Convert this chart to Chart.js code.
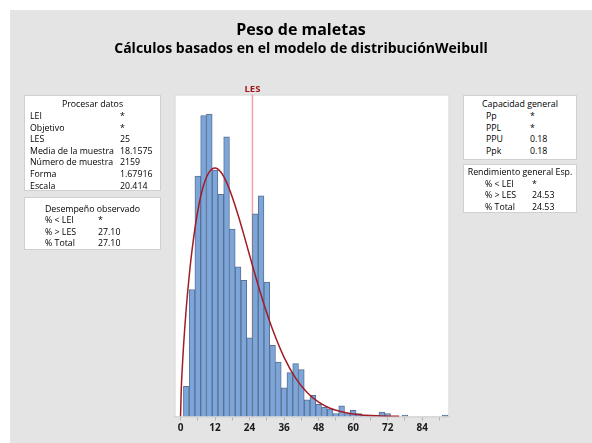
<!DOCTYPE html>
<html><head><meta charset="utf-8">
<script src="https://cdn.jsdelivr.net/npm/chart.js@4.4.1/dist/chart.umd.min.js"></script>
<style>
html,body{margin:0;padding:0;background:#fff;}
#wrap{position:relative;width:592px;height:443px;overflow:hidden;}
#bg{position:absolute;left:10px;top:10px;width:582px;height:433px;background:#e4e4e4;}
canvas{position:absolute;left:0;top:0;}
.ttl{position:absolute;left:10px;width:582px;text-align:center;font-family:'Open Sans',sans-serif;font-weight:bold;color:#000;white-space:nowrap;}
.box{position:absolute;background:#fff;border:1px solid #d0d0d0;box-sizing:border-box;font-family:'Open Sans',sans-serif;font-size:8.8px;color:#000;}
.box div{position:absolute;white-space:nowrap;line-height:10px;height:10px;}
</style></head>
<body><div id="wrap"><div id="bg"></div>
<canvas id="c" width="592" height="443"></canvas>
<div class="ttl" style="top:20px;font-size:16px;line-height:19px;">Peso de maletas</div>
<div class="ttl" style="top:39px;font-size:14px;line-height:17px;">Cálculos basados en el modelo de distribuciónWeibull</div>
</div>
<script>
// ---- data ----
const binMids = [2,4,6,8,10,12,14,16,18,20,22,24,26,28,30,32,34,36,38,40,42,44,46,48,50,52,54,56,58,60,62,64,66,68,70,72,74,76,78,80,82,84,86,88,90,92];
const counts  = [20,84,159,199,200,163,147,185,124,99,90,52,134,146,89,47,36,19,29,35,31,11,14,8,6,5,2,7,2,4,2,1,1,1,3,2,0,0,1,0,0,0,0,0,0,1];
const curveX = [0,0.25,0.5,1,2,3,4,6,8,10,12,14,16,18,20,22,24,26,28,30,32,36,40,44,48,52,56,60,64,68,72,76];
const curveY = [0,17.8,28.6,45.5,71.9,92.8,110.1,136.1,152.8,161.8,164.4,161.7,154.9,145.1,133.3,120.3,106.7,93.3,80.4,68.4,57.5,39.1,25.4,15.9,9.5,5.5,3.1,1.6,0.85,0.43,0.21,0.1];
const tickValues = [0,6,12,18,24,30,36,42,48,54,60,66,72,78,84,90];
const tickLabels = ['0','12','24','36','48','60','72','84'];
const LES = 25;
const LESLabel = 'LES';

const procLabels = ['LEI','Objetivo','LES','Media de la muestra','Número de muestra','Forma','Escala'];
const procValues = ['*','*','25','18.1575','2159','1.67916','20.414'];
const obsLabels = ['% < LEI','% > LES','% Total'];
const obsValues = ['*','27.10','27.10'];
const capLabels = ['Pp','PPL','PPU','Ppk'];
const capValues = ['*','*','0.18','0.18'];
const expLabels = ['% < LEI','% > LES','% Total'];
const expValues = ['*','24.53','24.53'];

// ---- panels ----
function panel(x,y,w,h,title,titleY,labels,values,lx,vx,rowY0,step){
  const b=document.createElement('div');b.className='box';
  b.style.left=x+'px';b.style.top=y+'px';b.style.width=w+'px';b.style.height=h+'px';
  const t=document.createElement('div');t.textContent=title;
  t.style.left='0';t.style.width=(w-2)+'px';t.style.textAlign='center';t.style.top=(titleY-y-1-5)+'px';
  b.appendChild(t);
  labels.forEach((l,i)=>{
    const cy=rowY0+i*step;
    const a=document.createElement('div');a.textContent=l;a.style.left=(lx-x-1)+'px';a.style.top=(cy-y-1-5)+'px';b.appendChild(a);
    const v=document.createElement('div');v.textContent=values[i];v.style.left=(vx-x-1)+'px';v.style.top=(cy-y-1-5)+'px';b.appendChild(v);
  });
  document.getElementById('wrap').appendChild(b);
}
panel(24,95,137,96,'Procesar datos',104,procLabels,procValues,30,120,116,11.6);
panel(24,197,137,53,'Desempeño observado',209,obsLabels,obsValues,45,98,220,11.6);
panel(463,95,114,65,'Capacidad general',104,capLabels,capValues,486,530,116,11.6);
panel(463,164,114,49,'Rendimiento general Esp.',172,expLabels,expValues,485,532,184,11.4);

// ---- chart ----
const framePlugin={id:'frame',
  beforeDatasetsDraw(chart){
    const {ctx,chartArea:a,scales:{x}}=chart;
    ctx.save();
    ctx.fillStyle='#fff';ctx.fillRect(a.left,a.top,a.right-a.left,a.bottom-a.top);
    ctx.strokeStyle='#d0d0d0';ctx.lineWidth=1;
    ctx.strokeRect(a.left+0.5,a.top+0.5,a.right-a.left-1,a.bottom-a.top);
    const px=x.getPixelForValue(LES);
    ctx.strokeStyle='#f0a2a2';ctx.lineWidth=1.5;
    ctx.beginPath();ctx.moveTo(px,a.top);ctx.lineTo(px,a.bottom);ctx.stroke();
    ctx.fillStyle='#a3161c';ctx.font="bold 9.5px 'Open Sans'";ctx.textAlign='center';ctx.textBaseline='middle';
    ctx.fillText(LESLabel,px,a.top-5.5);
    ctx.restore();
  }};
Chart.defaults.font.family="'Open Sans'";
new Chart(document.getElementById('c'),{
  type:'bar',
  data:{datasets:[
    {type:'line',data:curveX.map((x,i)=>({x,y:curveY[i]})),borderColor:'#a11d25',borderWidth:1.5,pointRadius:0,cubicInterpolationMode:'monotone',fill:false,order:0},
    {type:'bar',data:binMids.map((x,i)=>({x,y:counts[i]})),backgroundColor:'#7ca6da',borderColor:'#5a7193',borderWidth:1,borderSkipped:'bottom',barPercentage:1,categoryPercentage:1,order:1}
  ]},
  options:{responsive:false,devicePixelRatio:1,animation:false,
    layout:{padding:{left:174.5,right:142.5,top:94.5,bottom:0}},
    plugins:{legend:{display:false},tooltip:{enabled:false}},
    scales:{
      x:{type:'linear',min:-2.1,max:93.5,offset:false,
        grid:{display:true,drawOnChartArea:false,drawTicks:true,tickLength:4,color:'#b4b4b4',offset:false},
        border:{display:true,color:'#c8c8c8'},
        afterBuildTicks:(ax)=>{ax.ticks=tickValues.map(v=>({value:v}));},
        afterFit:(s)=>{s.height=26.5;},
        ticks:{autoSkip:false,maxRotation:0,padding:2,color:'#1a1a1a',font:{size:10,weight:'bold'},
          callback:(v)=>tickLabels.includes(String(v))?String(v):''}},
      y:{display:false,min:0,max:213}
    }},
  plugins:[framePlugin]
});
</script>
</body></html>
